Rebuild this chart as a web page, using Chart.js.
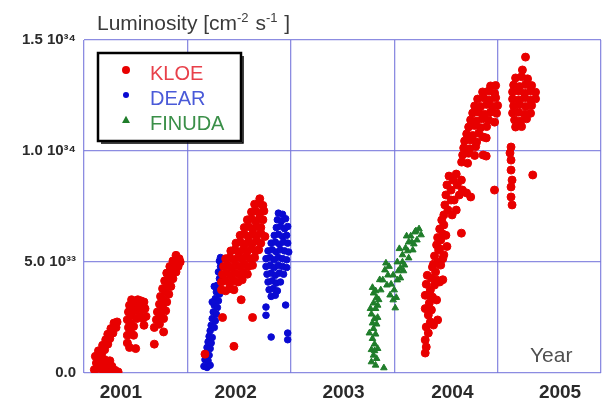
<!DOCTYPE html>
<html>
<head>
<meta charset="utf-8">
<script src="https://cdn.jsdelivr.net/npm/chart.js@4.4.1/dist/chart.umd.min.js"></script>
<style>
  html, body { margin: 0; padding: 0; background: #ffffff; }
  #wrap { width: 602px; height: 405px; }
</style>
</head>
<body>
<div id="wrap"><canvas id="c" width="602" height="405"></canvas></div>
<script>
// ---- Data (x: year, y: luminosity in units of 1e33 cm^-2 s^-1) ----
const yearLabels = ['2001', '2002', '2003', '2004', '2005'];
const yTickValues = [0, 5, 10, 15];
const yTickLabels = ['0.0', '5.0 10\u00B3\u00B3', '1.0 10\u00B3\u2074', '1.5 10\u00B3\u2074'];

const kloe2001 = [
  [2001.10,0.15],[2001.12,0.45],[2001.11,0.75],[2001.14,0.2],[2001.15,0.6],[2001.14,1.0],
  [2001.17,0.35],[2001.17,0.85],[2001.18,1.25],[2001.20,0.6],[2001.20,1.05],[2001.21,1.5],
  [2001.22,0.3],[2001.23,1.3],[2001.23,1.75],[2001.25,0.55],[2001.25,1.55],[2001.26,2.0],
  [2001.27,0.3],[2001.28,1.8],[2001.29,2.25],[2001.30,0.12],[2001.31,2.05],[2001.32,2.3],
  [2001.33,0.05],[2001.19,0.08],[2001.24,0.05],
  [2001.42,1.35],[2001.44,1.15],[2001.50,1.1],[2001.42,1.7],[2001.43,2.05],[2001.45,1.85],
  [2001.42,2.4],[2001.45,2.25],[2001.43,2.75],[2001.46,2.6],[2001.44,3.05],[2001.47,2.95],
  [2001.46,3.3],[2001.49,3.2],[2001.50,2.8],[2001.52,3.3],[2001.53,3.0],[2001.55,3.25],
  [2001.56,2.85],[2001.58,3.2],[2001.59,2.9],[2001.60,2.55],[2001.57,2.45],[2001.58,2.15],
  [2001.54,2.55],[2001.51,2.45],[2001.48,2.1],[2001.48,1.7],
  [2001.68,1.3],[2001.77,1.85],[2001.68,2.05],[2001.70,2.4],[2001.73,2.2],[2001.71,2.75],
  [2001.74,2.6],[2001.77,2.45],[2001.73,3.1],[2001.76,2.95],[2001.79,2.8],[2001.74,3.45],
  [2001.77,3.3],[2001.80,3.2],[2001.76,3.8],[2001.79,3.65],[2001.82,3.55],[2001.78,4.15],
  [2001.81,4.0],[2001.84,3.9],[2001.80,4.5],[2001.83,4.35],[2001.86,4.25],[2001.83,4.8],
  [2001.86,4.65],[2001.89,4.55],[2001.86,5.05],[2001.89,4.95],[2001.91,4.8],[2001.89,5.3],
  [2001.92,5.15],[2001.93,5.0]
];

const kloe2002 = [
  [2002.17,0.85],[2002.34,2.5],[2002.45,1.2],[2002.52,3.3],[2002.63,2.5],
  [2002.33,3.75],[2002.37,3.7],[2002.41,3.8],[2002.45,3.75],
  [2002.33,4.1],[2002.37,4.15],[2002.41,4.05],[2002.45,4.15],[2002.49,4.1],[2002.53,4.2],
  [2002.34,4.45],[2002.38,4.5],[2002.42,4.4],[2002.46,4.5],[2002.50,4.45],[2002.54,4.55],[2002.58,4.45],
  [2002.35,4.8],[2002.39,4.85],[2002.43,4.75],[2002.47,4.85],[2002.51,4.8],[2002.55,4.9],[2002.59,4.8],[2002.63,4.85],
  [2002.37,5.15],[2002.41,5.2],[2002.45,5.1],[2002.49,5.2],[2002.53,5.15],[2002.57,5.25],[2002.61,5.15],[2002.65,5.2],
  [2002.42,5.5],[2002.46,5.55],[2002.50,5.45],[2002.54,5.55],[2002.58,5.5],[2002.62,5.6],[2002.66,5.5],[2002.69,5.55],
  [2002.47,5.85],[2002.51,5.9],[2002.55,5.8],[2002.59,5.9],[2002.63,5.85],[2002.67,5.95],[2002.71,5.85],
  [2002.51,6.2],[2002.55,6.25],[2002.59,6.15],[2002.63,6.25],[2002.67,6.2],[2002.71,6.3],[2002.75,6.15],
  [2002.55,6.55],[2002.59,6.6],[2002.63,6.5],[2002.67,6.6],[2002.71,6.55],
  [2002.58,6.9],[2002.62,6.95],[2002.66,6.85],[2002.70,6.95],[2002.73,6.9],
  [2002.62,7.25],[2002.66,7.3],[2002.70,7.2],[2002.74,7.3],
  [2002.65,7.6],[2002.69,7.65],[2002.73,7.55],[2002.70,7.85]
];

const kloe2004 = [
  [2004.30,0.9],[2004.31,1.17],[2004.30,1.49],[2004.33,1.8],[2004.31,2.07],[2004.35,2.3],
  [2004.33,2.61],[2004.36,2.84],[2004.34,3.15],[2004.37,3.42],[2004.35,3.74],[2004.39,3.96],
  [2004.36,4.28],[2004.40,4.55],[2004.37,4.77],[2004.42,5.0],[2004.39,5.27],[2004.43,5.54],
  [2004.41,5.77],[2004.45,5.99],[2004.47,6.26],[2004.44,6.49],[2004.48,6.67],[2004.46,6.89],
  [2004.41,3.29],[2004.42,2.39],[2004.38,2.16],[2004.33,3.51],[2004.41,4.19],[2004.45,4.86],
  [2004.48,5.32],[2004.44,5.6],[2004.42,6.1],[2004.38,4.9],[2004.50,6.2],[2004.51,5.7],
  [2004.47,5.15],[2004.31,4.0],[2004.44,4.1],[2004.30,2.9],[2004.30,3.5],[2004.32,4.4],
  [2004.47,4.2],
  [2004.48,7.12],[2004.52,7.34],[2004.49,7.57],[2004.55,7.79],[2004.50,8.02],[2004.55,8.24],
  [2004.51,8.47],[2004.57,8.69],[2004.53,8.87],[2004.60,8.96],[2004.61,8.47],[2004.63,8.02],
  [2004.66,8.24],[2004.70,8.11],[2004.74,7.93],[2004.58,7.79],[2004.60,7.34],[2004.56,7.12],
  [2004.65,8.69],[2004.65,6.3],
  [2004.652,9.5],[2004.710,9.45],
  [2004.662,9.82],[2004.720,9.9],[2004.778,9.8],
  [2004.672,10.14],[2004.730,10.1],[2004.788,10.2],
  [2004.681,10.45],[2004.739,10.5],[2004.797,10.4],
  [2004.701,10.77],[2004.759,10.7],[2004.817,10.8],
  [2004.720,11.08],[2004.778,11.15],[2004.836,11.05],[2004.894,11.1],
  [2004.739,11.4],[2004.797,11.35],[2004.855,11.45],[2004.913,11.4],[2004.971,11.3],
  [2004.759,11.71],[2004.817,11.75],[2004.874,11.65],[2004.932,11.75],[2004.990,11.7],
  [2004.778,12.03],[2004.836,12.0],[2004.894,12.1],[2004.952,12.0],[2005.0,12.05],
  [2004.807,12.34],[2004.865,12.4],[2004.923,12.3],[2004.981,12.4],
  [2004.855,12.66],[2004.913,12.7],[2004.971,12.6],
  [2004.932,12.93],[2004.981,12.95],
  [2004.86,10.63],[2004.89,10.59],[2004.86,9.82],[2004.89,9.77],[2004.97,8.24]
];

const kloe2005 = [
  [2005.13,10.18],[2005.12,9.91],[2005.13,9.59],[2005.13,9.14],[2005.14,8.69],[2005.13,8.38],
  [2005.13,7.93],[2005.14,7.57],[2005.34,8.92],
  [2005.27,14.23],[2005.24,13.65],
  [2005.174,13.29],[2005.232,13.35],[2005.290,13.25],
  [2005.155,12.97],[2005.213,12.9],[2005.271,13.0],[2005.329,12.95],
  [2005.145,12.66],[2005.203,12.7],[2005.261,12.6],[2005.319,12.7],[2005.367,12.65],
  [2005.145,12.34],[2005.203,12.3],[2005.261,12.4],[2005.319,12.3],[2005.367,12.35],
  [2005.155,12.03],[2005.213,12.1],[2005.271,12.0],[2005.329,12.05],
  [2005.145,11.71],[2005.203,11.75],[2005.261,11.65],[2005.319,11.7],
  [2005.164,11.4],[2005.222,11.35],[2005.280,11.45],
  [2005.174,11.08],[2005.232,11.1]
];

const dear2002 = [
  [2002.16,0.3],[2002.19,0.25],[2002.22,0.35],[2002.17,0.6],[2002.20,0.55],[2002.18,0.9],
  [2002.21,0.8],[2002.19,1.15],[2002.22,1.1],[2002.20,1.4],[2002.23,1.35],[2002.21,1.65],
  [2002.24,1.6],[2002.22,1.9],
  [2002.23,2.15],[2002.26,2.05],[2002.24,2.45],[2002.27,2.35],[2002.25,2.75],[2002.28,2.65],
  [2002.26,3.05],[2002.29,2.95],[2002.27,3.35],[2002.30,3.25],[2002.28,3.65],[2002.31,3.55],
  [2002.29,3.95],[2002.31,4.25],[2002.30,4.55],[2002.32,4.8],[2002.31,5.05],[2002.32,5.2],
  [2002.24,3.2],[2002.26,3.9],
  [2002.88,7.2],[2002.92,7.15],
  [2002.87,6.9],[2002.91,6.85],[2002.95,6.95],
  [2002.86,6.55],[2002.90,6.6],[2002.94,6.5],[2002.97,6.6],
  [2002.84,6.2],[2002.88,6.25],[2002.92,6.15],[2002.96,6.2],
  [2002.81,5.85],[2002.85,5.9],[2002.89,5.8],[2002.93,5.9],[2002.97,5.85],
  [2002.78,5.5],[2002.82,5.55],[2002.86,5.45],[2002.90,5.55],[2002.94,5.5],[2002.98,5.45],
  [2002.76,5.15],[2002.80,5.2],[2002.84,5.1],[2002.88,5.2],[2002.92,5.15],[2002.96,5.1],
  [2002.76,4.8],[2002.80,4.85],[2002.84,4.75],[2002.88,4.85],[2002.92,4.8],[2002.96,4.75],
  [2002.77,4.45],[2002.81,4.5],[2002.85,4.4],[2002.89,4.5],[2002.93,4.45],
  [2002.78,4.1],[2002.82,4.15],[2002.86,4.05],[2002.90,4.1],
  [2002.79,3.75],[2002.83,3.8],[2002.87,3.7],
  [2002.81,3.45],[2002.85,3.5],
  [2002.76,2.97],[2002.76,2.6],[2002.95,3.06],[2002.81,1.62],[2002.97,1.8],[2002.97,1.5]
];

const finuda2003 = [
  [2003.90,0.23],[2003.78,0.5],[2003.80,0.8],[2003.83,0.65],[2003.78,1.05],[2003.81,1.3],
  [2003.84,1.1],[2003.79,1.55],[2003.82,1.75],[2003.80,2.0],[2003.83,2.2],[2003.81,2.45],
  [2003.78,2.65],[2003.82,2.9],[2003.80,3.15],[2003.84,3.05],[2003.83,3.4],[2003.80,3.6],
  [2003.79,3.85],[2003.85,3.3],[2003.87,3.74],[2003.89,4.19],[2003.91,4.64],[2003.92,4.95],
  [2003.94,4.41],[2003.93,3.96],[2003.96,3.51],[2003.99,3.29],[2004.01,2.93],[2004.00,3.74],
  [2004.03,4.19],[2003.99,4.41],[2004.06,4.73],[2004.03,5.0],[2004.08,5.32],[2004.11,5.63],
  [2004.14,5.9],[2004.16,6.17],[2004.20,6.35],[2004.24,6.49],[2004.22,5.99],[2004.18,5.54],
  [2004.14,5.18],[2004.10,4.86],[2004.06,4.28],[2004.26,6.22],[2004.12,6.17],[2004.19,5.81],
  [2003.97,4.0],[2004.05,5.6],[2004.09,4.6],
  [2003.76,1.8],[2003.77,2.9],[2003.84,2.5],[2003.82,0.35],[2003.86,4.2],[2003.95,4.8],
  [2004.02,3.4],[2004.04,4.6],[2004.08,5.0],[2004.13,5.5],[2004.17,5.9],[2004.21,6.4],
  [2003.81,1.0],[2003.79,2.25],[2003.82,3.7]
];

// year label positions under the axis (label centres, in year units)
const yearLabelPos = [2001.357, 2002.467, 2003.51, 2004.562, 2005.604];

const toPts = arr => arr.map(([x, y]) => ({ x, y }));

const FONT = "'Liberation Sans', Arial, Helvetica, sans-serif";
const GRID = 'rgba(120,120,220,0.85)';

const overlay = {
  id: 'overlay',
  afterDraw(chart) {
    const ctx = chart.ctx;
    ctx.save();
    // Title with superscripts
    ctx.fillStyle = '#3a3a3a';
    ctx.textBaseline = 'alphabetic';
    ctx.textAlign = 'left';
    let x = 97;
    const base = 30;
    const parts = [
      ['Luminosity [cm', 21, 0],
      ['-2', 13, -8],
      [' s', 21, 0],
      ['-1', 13, -8],
      [' ]', 21, 0]
    ];
    for (const [t, s, dy] of parts) {
      ctx.font = s + 'px ' + FONT;
      ctx.fillText(t, x, base + dy);
      x += ctx.measureText(t).width + (s < 20 ? 1 : 0);
    }
    // "Year"
    ctx.font = '21px ' + FONT;
    ctx.fillStyle = '#505050';
    ctx.fillText('Year', 530, 362);

    // Legend box
    const lx = 98, ly = 53, lw = 143, lh = 88;
    ctx.fillStyle = '#ffffff';
    ctx.fillRect(lx, ly, lw, lh);
    ctx.strokeStyle = '#000000';
    ctx.lineWidth = 2.5;
    ctx.strokeRect(lx, ly, lw, lh);
    ctx.lineWidth = 1.5;
    ctx.beginPath();
    ctx.moveTo(lx + lw + 2, ly + 3);
    ctx.lineTo(lx + lw + 2, ly + lh + 2);
    ctx.lineTo(lx + 3, ly + lh + 2);
    ctx.stroke();

    const textColors = ['#e8404a', '#4a5ad8', '#3a8f48'];
    const markerR = [4.0, 3.0, 3.6];
    chart.data.datasets.forEach((ds, i) => {
      const my = 70 + i * 25;
      ctx.fillStyle = ds.backgroundColor;
      ctx.beginPath();
      if (ds.pointStyle === 'triangle') {
        const r = markerR[i];
        ctx.moveTo(126, my - r * 1.2);
        ctx.lineTo(126 + r * 1.1, my + r * 0.8);
        ctx.lineTo(126 - r * 1.1, my + r * 0.8);
        ctx.closePath();
      } else {
        ctx.arc(126, my, markerR[i], 0, Math.PI * 2);
      }
      ctx.fill();
      ctx.font = '20px ' + FONT;
      ctx.fillStyle = textColors[i];
      ctx.fillText(ds.label, 150, my + 10);
    });
    ctx.restore();
  }
};

new Chart(document.getElementById('c'), {
  type: 'scatter',
  data: {
    datasets: [
      {
        label: 'KLOE',
        data: toPts([...kloe2001, ...kloe2002, ...kloe2004, ...kloe2005]),
        backgroundColor: '#e80000',
        borderColor: '#e80000',
        borderWidth: 1,
        pointRadius: 4.0,
        pointStyle: 'circle'
      },
      {
        label: 'DEAR',
        data: toPts(dear2002),
        backgroundColor: '#0a0ad2',
        borderColor: '#0a0ad2',
        borderWidth: 1,
        pointRadius: 3.3,
        pointStyle: 'circle'
      },
      {
        label: 'FINUDA',
        data: toPts(finuda2003),
        backgroundColor: '#1f7d2a',
        borderColor: '#1f7d2a',
        borderWidth: 1,
        pointRadius: 3.8,
        pointStyle: 'triangle'
      }
    ]
  },
  options: {
    responsive: false,
    animation: false,
    devicePixelRatio: 1,
    events: [],
    layout: { autoPadding: false, padding: { top: 40, right: 1, left: 0, bottom: 0 } },
    plugins: { legend: { display: false }, tooltip: { enabled: false }, title: { display: false } },
    scales: {
      x: {
        type: 'linear',
        position: 'bottom',
        min: 2001, max: 2006,
        ticks: { display: false, stepSize: 1 },
        grid: { color: GRID, lineWidth: 1.3, drawTicks: false },
        border: { display: false },
        afterFit(s) { s.height = 0; }
      },
      xl: {
        type: 'linear',
        position: 'bottom',
        min: 2001, max: 2006,
        grid: { display: false, drawTicks: false },
        border: { display: false },
        afterBuildTicks(s) { s.ticks = yearLabelPos.map(v => ({ value: v })); },
        ticks: {
          autoSkip: false, maxRotation: 0, minRotation: 0, padding: 8,
          color: '#2a2a2a',
          font: { family: FONT, size: 19, weight: 'bold' },
          callback: (v, i) => yearLabels[i]
        },
        afterFit(s) { s.height = 32; }
      },
      y: {
        type: 'linear',
        min: 0, max: 15,
        afterBuildTicks(s) { s.ticks = yTickValues.map(v => ({ value: v })); },
        ticks: {
          padding: 8,
          color: '#2a2a2a',
          font: { family: FONT, size: 15, weight: 'bold' },
          callback: (v, i) => yTickLabels[i]
        },
        grid: { color: GRID, lineWidth: 1.3, drawTicks: false },
        border: { display: false },
        afterFit(s) { s.width = 84; }
      }
    }
  },
  plugins: [overlay]
});
</script>
</body>
</html>
